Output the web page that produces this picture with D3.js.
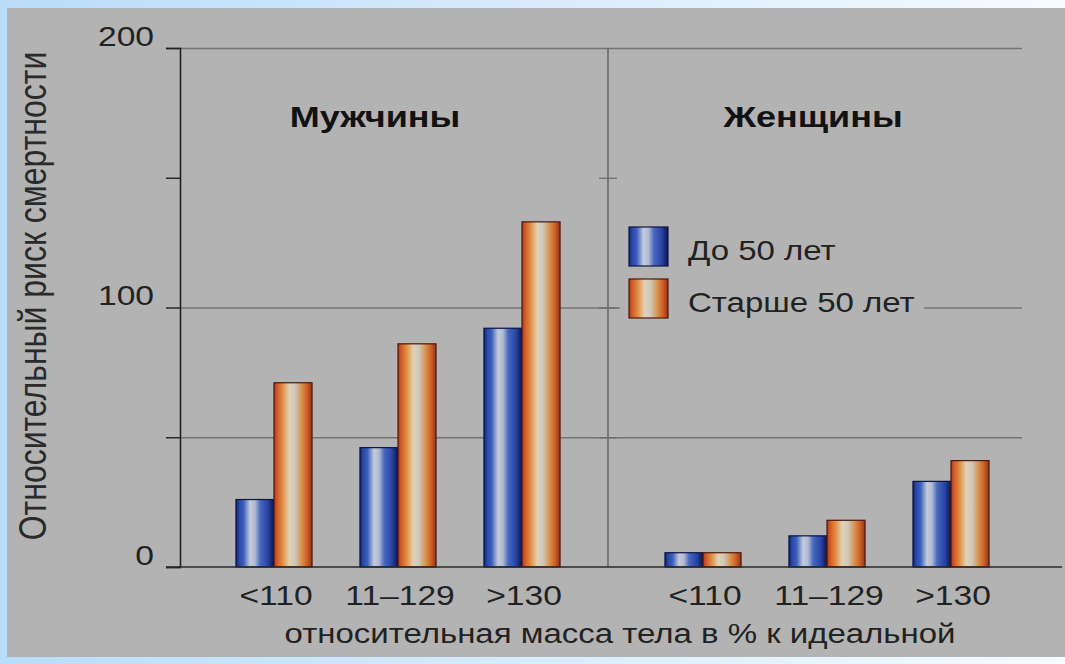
<!DOCTYPE html>
<html>
<head>
<meta charset="utf-8">
<script src="https://cdn.jsdelivr.net/npm/d3@7"></script>
<style>
  html, body { margin: 0; padding: 0; background: #fff; }
  svg { display: block; }
  text { font-family: "Liberation Sans", Arial, Helvetica, sans-serif; }
</style>
</head>
<body>
<svg id="chart" width="1065" height="664"></svg>
<script>
// ---------------- data ----------------
const categories = ["<110", "11–129", ">130"];
const series = ["До 50 лет", "Старше 50 лет"];
const menYoung = [26, 46, 92];
const menOld = [71, 86, 133];
const womenYoung = [5.5, 12, 33];
const womenOld = [5.5, 18, 41];
const groupTitles = ["Мужчины", "Женщины"];
const yTickValues = [0, 50, 100, 150, 200];
const yLabelValues = [0, 100, 200];
const gridValues = [50, 100, 200];
const yTitle = "Относительный риск смертности";
const xTitle = "относительная масса тела в % к идеальной";

// ---------------- layout ----------------
const W = 1065, H = 664;
const SX = 1.2; // horizontal text stretch of the original
const svg = d3.select("#chart");
const defs = svg.append("defs");

// background frame
const bg = defs.append("linearGradient").attr("id", "bgGrad")
  .attr("x1", "0%").attr("y1", "0%").attr("x2", "100%").attr("y2", "0%");
bg.append("stop").attr("offset", "0%").attr("stop-color", "#b9dcf9");
bg.append("stop").attr("offset", "100%").attr("stop-color", "#f6fbff");
svg.append("rect").attr("width", W).attr("height", H).attr("fill", "url(#bgGrad)");
svg.append("rect").attr("x", 7).attr("y", 8).attr("width", W - 7).attr("height", 649).attr("fill", "#b3b3b3");

// bar gradients
function grad(id, stops) {
  const g = defs.append("linearGradient").attr("id", id)
    .attr("x1", "0%").attr("y1", "0%").attr("x2", "100%").attr("y2", "0%");
  stops.forEach(s => g.append("stop").attr("offset", s[0]).attr("stop-color", s[1]));
}
grad("gBlue", [["0%", "#13226a"], ["8%", "#2848a8"], ["20%", "#3b5fbb"], ["37%", "#c4cbda"],
  ["50%", "#b0bad2"], ["64%", "#4667c0"], ["84%", "#2844a2"], ["100%", "#0b134c"]]);
grad("gOrange", [["0%", "#a8381a"], ["8%", "#d25a28"], ["22%", "#df8c40"], ["40%", "#e4d0b2"],
  ["55%", "#cdc9bf"], ["70%", "#d99a58"], ["86%", "#cc6428"], ["100%", "#98301a"]]);
const fills = ["url(#gBlue)", "url(#gOrange)"];
const strokes = ["#0e1440", "#4a1a10"];

const y = d3.scaleLinear().domain([0, 200]).range([567, 48]);
const axisX = 180, dividerX = 608, gridRight = 1022, baseRight = 1062;

// panels: outer band per category, inner band per series
const panels = [
  { title: groupTitles[0], values: [menYoung, menOld], range: [212, 584], titleX: 375 },
  { title: groupTitles[1], values: [womenYoung, womenOld], range: [641, 1013], titleX: 813 }
];

// grid lines
const gridG = svg.append("g").attr("transform", `translate(${axisX},0)`)
  .call(d3.axisRight(y).tickValues(gridValues).tickSize(gridRight - axisX).tickFormat(""));
gridG.select(".domain").remove();
gridG.selectAll(".tick line").attr("stroke", "#747474").attr("stroke-width", 1.4);

// divider between panels
svg.append("line").attr("x1", dividerX).attr("x2", dividerX).attr("y1", y(200)).attr("y2", y(0))
  .attr("stroke", "#6a6a6a").attr("stroke-width", 1.6);
const divTicks = svg.append("g").attr("transform", `translate(${dividerX + 9},0)`)
  .call(d3.axisLeft(y).tickValues([50, 100, 150]).tickSize(18).tickFormat(""));
divTicks.select(".domain").remove();
divTicks.selectAll(".tick line").attr("stroke", "#6a6a6a").attr("stroke-width", 1.2);

function sText(parent, x, yy, str, size, weight, anchor, color) {
  return parent.append("text")
    .attr("transform", `translate(${x},${yy}) scale(${SX},1)`)
    .attr("text-anchor", anchor || "middle")
    .attr("font-size", size).attr("font-weight", weight || "normal")
    .attr("fill", color || "#222").text(str);
}

panels.forEach(p => {
  sText(svg, p.titleX, 127, p.title, 30, "bold", "middle", "#121212");
  const x0 = d3.scaleBand().domain(categories).range(p.range);
  const x1 = d3.scaleBand().domain(series).range([0, x0.bandwidth()]).paddingOuter(0.63);
  const rows = categories.map((c, i) => ({ c, vals: series.map((s, j) => ({ s, j, v: p.values[j][i] })) }));
  const grp = svg.append("g").selectAll("g.cat").data(rows).join("g").attr("class", "cat")
    .attr("transform", d => `translate(${x0(d.c)},0)`);
  grp.selectAll("rect").data(d => d.vals).join("rect")
    .attr("x", d => x1(d.s)).attr("width", x1.bandwidth())
    .attr("y", d => y(d.v)).attr("height", d => y(0) - y(d.v))
    .attr("fill", d => fills[d.j]).attr("stroke", d => strokes[d.j]).attr("stroke-width", 1.2);

  // category labels
  const xa = svg.append("g").attr("transform", `translate(2,${y(0)})`)
    .call(d3.axisBottom(x0).tickSize(0).tickPadding(0));
  xa.select(".domain").remove();
  xa.selectAll(".tick text").attr("y", 38).attr("dy", 0).attr("x", 0)
    .attr("font-size", 28).attr("fill", "#222").attr("font-family", null)
    .attr("transform", `scale(${SX},1)`);
});

// legend (mask grid line behind it)
svg.append("rect").attr("x", 620).attr("y", 222).attr("width", 304).attr("height", 100).attr("fill", "#b3b3b3");
const legend = svg.append("g");
series.forEach((s, j) => {
  const ly = 227 + j * 52;
  legend.append("rect").attr("x", 629).attr("y", ly).attr("width", 39).attr("height", 39)
    .attr("fill", fills[j]).attr("stroke", strokes[j]).attr("stroke-width", 1.2);
  sText(legend, 688, ly + 33, s, 27.5, "normal", "start", "#222");
});

// y axis
const ya = svg.append("g").attr("transform", `translate(${axisX},0)`)
  .call(d3.axisLeft(y).tickValues(yTickValues).tickSize(14)
    .tickFormat(d => yLabelValues.includes(d) ? d : ""));
ya.select(".domain").attr("stroke", "#222").attr("stroke-width", 1.6);
ya.selectAll(".tick line").attr("stroke", "#222").attr("stroke-width", 1.4);
ya.selectAll(".tick text").attr("font-size", 28).attr("fill", "#222").attr("font-family", null)
  .attr("x", -26 / SX).attr("y", -3).attr("dy", 0)
  .attr("transform", `scale(${SX},1)`);

// x baseline
svg.append("line").attr("x1", axisX - 14).attr("x2", baseRight).attr("y1", y(0)).attr("y2", y(0))
  .attr("stroke", "#2a2a2a").attr("stroke-width", 1.6);

// axis titles
svg.append("text")
  .attr("transform", `translate(46,296) scale(${SX},1) rotate(-90)`)
  .attr("text-anchor", "middle").attr("font-size", 32).attr("fill", "#2a2a2a")
  .text(yTitle);
sText(svg, 620, 643, xTitle, 27.5, "normal", "middle", "#222");
</script>
</body>
</html>
